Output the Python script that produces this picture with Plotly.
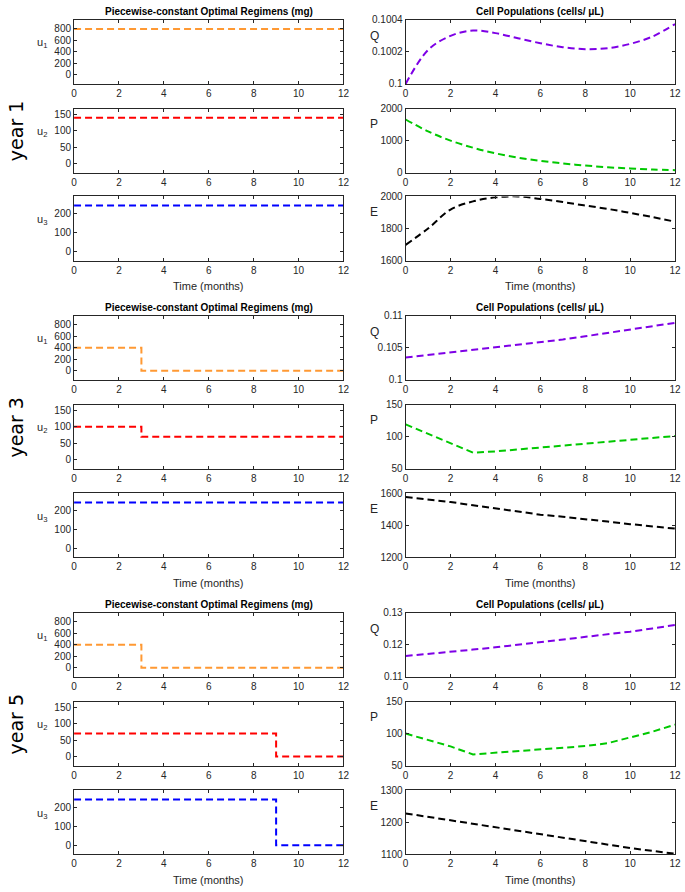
import plotly.graph_objects as go

W, H = 685, 892

# ---- data -------------------------------------------------------------
months = list(range(13))
step_t1 = [0, 12]
step_t3 = [0, 3, 12]
step_t39 = [0, 3, 9, 12]

years = ['year 1', 'year 3', 'year 5']

# drug regimens (mg), piecewise-constant
u1_y1 = [800, 800]
u2_y1 = [140, 140]
u3_y1 = [240, 240]
u1_y3 = [400, 0, 0]
u2_y3 = [100, 70, 70]
u3_y3 = [240, 240, 240]
u1_y5 = [400, 0, 0, 0]
u2_y5 = [70, 70, 0, 0]
u3_y5 = [240, 240, 0, 0]

# cell populations (cells/uL), monthly
Q_y1 = [0.10000, 0.100212, 0.10030, 0.100333, 0.100317, 0.100285, 0.100254,
        0.100229, 0.100217, 0.100223, 0.100250, 0.100296, 0.100373]
P_y1 = [1660, 1290, 1000, 780, 605, 470, 370, 290, 225, 170, 135, 100, 80]
E_y1 = [1698, 1800, 1918, 1969, 1994, 2000, 1984, 1965, 1943, 1922, 1897, 1871, 1842]

Q_y3 = [0.1035, 0.1039, 0.1042, 0.1046, 0.1050, 0.1054, 0.1059,
        0.1063, 0.1068, 0.1073, 0.1078, 0.1083, 0.1089]
P_y3 = [119, 104, 90, 75, 77, 80, 83.5, 86, 89, 92, 95.5, 98, 101]
E_y3 = [1577, 1562, 1546, 1526, 1506, 1486, 1467, 1454, 1441, 1424, 1408, 1394, 1380]

Q_y5 = [0.1165, 0.1171, 0.1178, 0.1185, 0.1192, 0.1200, 0.1209,
        0.1216, 0.1223, 0.1232, 0.1241, 0.1251, 0.1262]
P_y5 = [100, 90, 80, 67.5, 70, 73, 76, 78, 80.5, 85, 93.5, 103, 114]
E_y5 = [1228, 1217, 1207, 1195, 1184, 1173, 1162, 1151, 1140, 1130, 1120, 1111, 1102]

# axis settings (ranges and ticks as in the figure)
u_ranges = [[-160, 960], [-28, 168], [-48, 288]]
u_ticks = [[0, 200, 400, 600, 800], [0, 50, 100, 150], [0, 100, 200]]
cell_ranges = {
    'year 1': [[0.1, 0.1004], [0, 2000], [1600, 2000]],
    'year 3': [[0.1, 0.11], [50, 150], [1200, 1600]],
    'year 5': [[0.11, 0.13], [50, 150], [1100, 1300]],
}
cell_ticks = {
    'year 1': [[0.1, 0.1002, 0.1004], [0, 1000, 2000], [1600, 1800, 2000]],
    'year 3': [[0.1, 0.105, 0.11], [50, 100, 150], [1200, 1400, 1600]],
    'year 5': [[0.11, 0.12, 0.13], [50, 100, 150], [1100, 1200, 1300]],
}

u_colors = ['rgb(255,153,51)', 'rgb(255,0,0)', 'rgb(0,0,255)']
cell_colors = ['rgb(126,0,230)', 'rgb(0,200,0)', 'rgb(0,0,0)']

# ---- layout geometry (pixels) ----------------------------------------
left_px = (72, 345)
right_px = (408, 681)
row_px = [
    [(14, 79), (104, 169), (193, 258)],
    [(314, 379), (404, 469), (494, 559)],
    [(615, 680), (705, 770), (795, 860)],
]

FONT = 'Liberation Sans, Arial, sans-serif'
AX_COL = 'rgb(38,38,38)'
DASH = '7px,4px'


def xd(px):
    return [px[0] / W, px[1] / W]


def yd(px):
    return [1 - px[1] / H, 1 - px[0] / H]


def note(text, xpx, ypx, size, color=AX_COL, family=FONT, angle=0):
    return dict(text=text, x=xpx / W, y=1 - ypx / H, xref='paper', yref='paper',
                xanchor='center', yanchor='middle', showarrow=False, textangle=angle,
                font=dict(family=family, size=size, color=color))


fig = go.Figure()
layout = {}
annotations = []
n = 0


def add_panel(x, y, color, xdom, ydom, yrange, yticks, shape):
    global n
    n += 1
    sfx = '' if n == 1 else str(n)
    fig.add_trace(go.Scatter(
        x=x, y=y, mode='lines', line=dict(color=color, width=2, dash=DASH, shape=shape),
        xaxis='x' + sfx, yaxis='y' + sfx, showlegend=False, hoverinfo='skip'))
    common = dict(showline=True, linecolor=AX_COL, linewidth=1, mirror='ticks',
                  ticks='inside', ticklen=3, tickcolor=AX_COL, showgrid=False,
                  zeroline=False, tickfont=dict(family=FONT, size=10, color=AX_COL))
    layout['xaxis' + sfx] = dict(common, domain=xd(xdom), range=[0, 12],
                                 tickvals=[0, 2, 4, 6, 8, 10, 12], anchor='y' + sfx)
    layout['yaxis' + sfx] = dict(common, domain=yd(ydom), range=yrange,
                                 tickvals=yticks, anchor='x' + sfx)


u_data = {
    'year 1': [(step_t1, u1_y1), (step_t1, u2_y1), (step_t1, u3_y1)],
    'year 3': [(step_t3, u1_y3), (step_t3, u2_y3), (step_t3, u3_y3)],
    'year 5': [(step_t39, u1_y5), (step_t39, u2_y5), (step_t39, u3_y5)],
}
cell_data = {
    'year 1': [Q_y1, P_y1, E_y1],
    'year 3': [Q_y3, P_y3, E_y3],
    'year 5': [Q_y5, P_y5, E_y5],
}
u_names = ['u<sub>1</sub>', 'u<sub>2</sub>', 'u<sub>3</sub>']
cell_names = ['Q', 'P', 'E']

for yi, year in enumerate(years):
    rows = row_px[yi]
    for k in range(3):
        t, u = u_data[year][k]
        add_panel(t, u, u_colors[k], left_px, rows[k], u_ranges[k], u_ticks[k], 'hv')
        shape = 'spline' if year == 'year 1' else 'linear'
        add_panel(months, cell_data[year][k], cell_colors[k], right_px, rows[k],
                  cell_ranges[year][k], cell_ticks[year][k], shape)
        annotations.append(note(u_names[k], 40, rows[k][0] + 24, 11))
        annotations.append(note(cell_names[k], 376, rows[k][0] + 16, 12))
    top = rows[0][0]
    annotations.append(note('<b>Piecewise-constant Optimal Regimens (mg)</b>',
                            (left_px[0] + left_px[1]) / 2, top - 8, 10, 'black'))
    annotations.append(note('<b>Cell Populations (cells/ \u03bcL)</b>',
                            (right_px[0] + right_px[1]) / 2, top - 8, 10, 'black'))
    bottom = rows[2][1]
    for px in (left_px, right_px):
        annotations.append(note('Time (months)', (px[0] + px[1]) / 2, bottom + 26, 11))
    annotations.append(note(year, 13, (rows[0][0] + rows[2][1]) / 2 - 10, 19, 'black',
                            'DejaVu Sans, sans-serif', -90))

fig.update_layout(
    width=W, height=H,
    margin=dict(l=0, r=0, t=0, b=0),
    plot_bgcolor='white', paper_bgcolor='white',
    annotations=annotations,
    **layout
)

fig.write_html("out.html", config={'displayModeBar': False},
               post_script="document.body.style.margin = '0';")
